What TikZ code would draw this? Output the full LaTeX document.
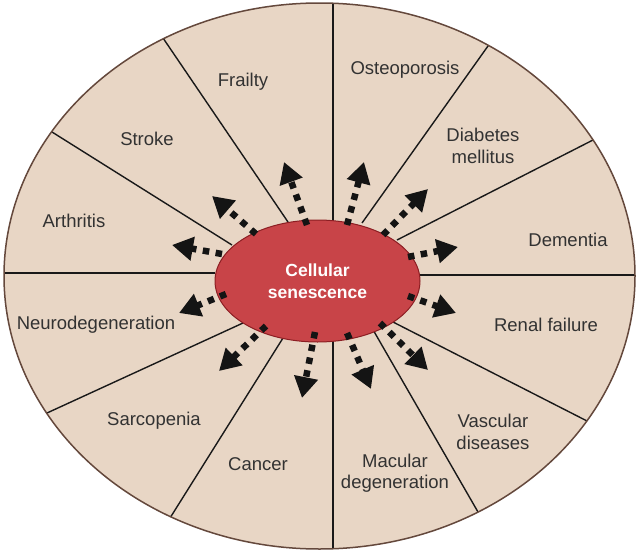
\documentclass[tikz,border=0pt]{standalone}
\usepackage{fontspec}
\setmainfont{Liberation Sans}
\usetikzlibrary{arrows.meta,shapes.geometric,calc}
\definecolor{beige}{RGB}{232,214,197}
\definecolor{rim}{RGB}{100,72,60}
\definecolor{cellred}{RGB}{200,68,72}
\definecolor{cellrim}{RGB}{140,30,35}
\definecolor{txt}{RGB}{50,50,50}
\tikzset{
  lbl/.style={font=\fontsize{18.5}{21.5}\selectfont, text=txt, align=center, inner sep=0pt},
  divider/.style={line width=1.4pt, draw=black!90},
  sarrow/.style={line width=6.5pt, draw=black!92, dash pattern=on 6.5pt off 6.5pt,
    -{Triangle[length=21pt,width=23pt]}},
}
\begin{document}
\begin{tikzpicture}[x=1pt,y=-1pt]
\useasboundingbox (0,0) rectangle (640,554);
% outer disc
\fill[beige] (319.5,276) ellipse [x radius=315.5, y radius=273];
\begin{scope}
\clip (319.5,276) ellipse [x radius=315.5, y radius=273];
\draw[divider] (333,222) -- ($(333,222)!1.2!(333,2)$);
\draw[divider] (362,223) -- ($(362,223)!1.2!(488,46)$);
\draw[divider] (397,240) -- ($(397,240)!1.2!(593,140)$);
\draw[divider] (420,275) -- (645,275);
\draw[divider] (393,322) -- ($(393,322)!1.2!(589,422)$);
\draw[divider] (372,328) -- ($(372,328)!1.2!(478,512)$);
\draw[divider] (333,340) -- (333,560);
\draw[divider] (283,338) -- ($(283,338)!1.2!(170,518)$);
\draw[divider] (243,323) -- ($(243,323)!1.2!(47,413)$);
\draw[divider] (215,273) -- (-5,273);
\draw[divider] (232,245) -- ($(232,245)!1.2!(52,132)$);
\draw[divider] (288,222) -- ($(288,222)!1.2!(163,38)$);
\end{scope}
\draw[rim, line width=1.5pt] (319.5,276) ellipse [x radius=315.5, y radius=273];
% centre
\node[ellipse, fill=cellred, draw=cellrim, line width=1pt, minimum width=205pt,
  minimum height=122pt, inner sep=0pt] (cs) at (317.5,281) {};
\node[font=\bfseries\fontsize{17.5}{21.5}\selectfont, text=white, align=center] (cst) at (317.5,281) {Cellular\\senescence};
% arrows
\foreach \sx/\sy/\tx/\ty/\n in {222/254/172/245/a1, 256/234/212/196/a2, 307/225/284/162/a3,
  347/225/364/162/a4, 383/235/428/189/a5, 408/257/458/247/a6,
  408/296/456/313/a7, 380/323/428/370/a8, 347/333/371/389/a9,
  315/332/302/398/a10, 266/326/219/371/a11, 226/294/179/313/a12}{
  \coordinate (\n s) at (\sx,\sy);
  \coordinate (\n t) at (\tx,\ty);
  \draw[sarrow] (\n s) -- (\n t);
}
% labels
\node[lbl] (frailty) at (243,82) {Frailty};
\node[lbl] (stroke) at (147,139) {Stroke};
\node[lbl] (arthritis) at (74,221) {Arthritis};
\node[lbl] (osteo) at (405,70) {Osteoporosis};
\node[lbl] (diabetes) at (483,146) {Diabetes\\mellitus};
\node[lbl] (dementia) at (568,240) {Dementia};
\node[lbl] (neuro) at (96,325) {Neurodegeneration};
\node[lbl] (sarco) at (154,421) {Sarcopenia};
\node[lbl] (cancer) at (258,464) {Cancer};
\node[lbl] (renal) at (546,325) {Renal failure};
\node[lbl] (vascular) at (493,432) {Vascular\\diseases};
\node[lbl] (macular) at (395,473) {Macular\\degeneration};
\end{tikzpicture}
\end{document}
